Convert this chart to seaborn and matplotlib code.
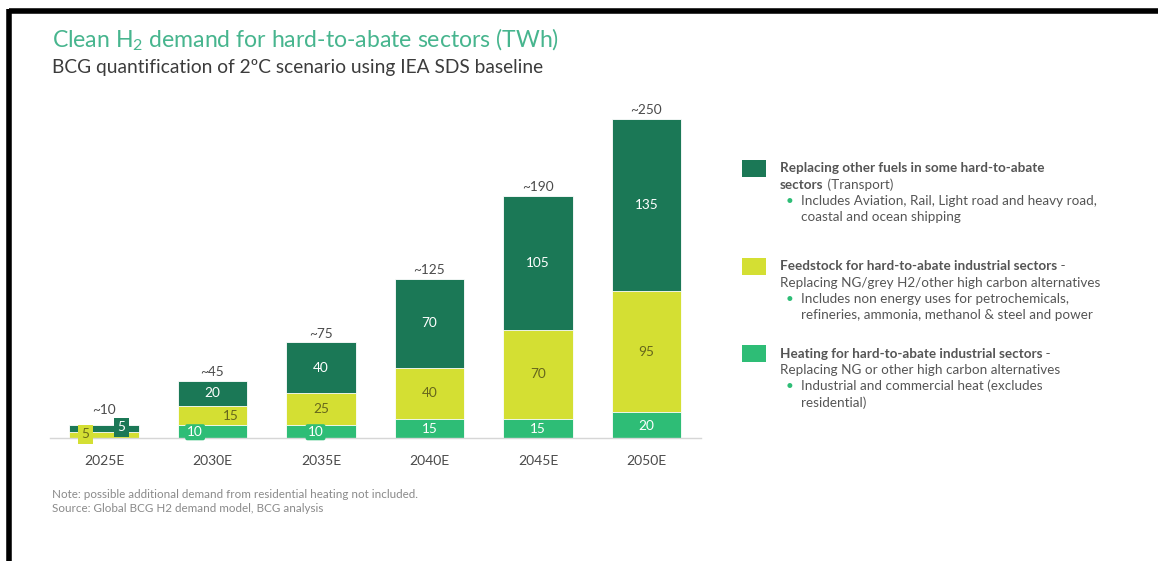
import matplotlib
matplotlib.use("Agg")
import matplotlib.pyplot as plt
import seaborn as sns
import pandas as pd
import numpy as np
from matplotlib.lines import Line2D
from matplotlib.patches import Rectangle

# ---- data -------------------------------------------------------------
years = ["2025E", "2030E", "2035E", "2040E", "2045E", "2050E"]
heating = [0, 10, 10, 15, 15, 20]
feedstock = [5, 15, 25, 40, 70, 95]
transport = [5, 20, 40, 70, 105, 135]
totals = ["~10", "~45", "~75", "~125", "~190", "~250"]

note_lines = [
    "Note: possible additional demand from residential heating not included.",
    "Source: Global BCG H2 demand model, BCG analysis",
]

# ---- style ------------------------------------------------------------
sns.set_theme(style="white")
FONT = "Lato"
plt.rcParams["font.family"] = [FONT, "DejaVu Sans"]
plt.rcParams["mathtext.fontset"] = "custom"
plt.rcParams["mathtext.rm"] = FONT

C_TRANS = "#1b7856"
C_FEED = "#d4df33"
C_HEAT = "#2ebd76"
C_TITLE = "#47b58e"
C_TEXT = "#4a4a4a"
C_NOTE = "#8a8a8a"

W, H = 1158, 561
fig = plt.figure(figsize=(W / 100, H / 100), dpi=100)


def fx(px):
    return px / W


def fy(py):
    return 1 - py / H


# axes: category 0..5 centred at 104..647 px, baseline at y=438 px
ax = fig.add_axes([fx(49.7), fy(438), fx(651), 344.5 / H])
ax.set_xlim(-0.5, 5.5)
ax.set_ylim(0, 270)

df = pd.DataFrame({
    "year": years,
    "Heating": heating,
    "Feedstock": feedstock,
    "Transport": transport,
})
df["b_feed"] = df["Heating"]
df["b_trans"] = df["Heating"] + df["Feedstock"]
df["top"] = df["b_trans"] + df["Transport"]

bw = 0.64
sns.barplot(data=df, x="year", y="top", color=C_TRANS, width=bw, ax=ax,
            saturation=1, edgecolor="white", linewidth=0.6)
sns.barplot(data=df, x="year", y="b_trans", color=C_FEED, width=bw, ax=ax,
            saturation=1, edgecolor="white", linewidth=0.6)
sns.barplot(data=df, x="year", y="b_feed", color=C_HEAT, width=bw, ax=ax,
            saturation=1, edgecolor="white", linewidth=0.6)

# segment labels
lab_fs = 9.8
x_shift_heat = {1: -0.16, 2: -0.05}
x_shift_feed = {1: 0.17}
for i in range(len(years)):
    h, f, t = heating[i], feedstock[i], transport[i]
    tot_gap = 2
    if i == 0:
        # tiny first bar: labels sit in small tags of the segment colour
        ax.text(i - 0.17, h + f * 0.5 + 0.5, f"{f}", ha="center", va="center",
                fontsize=lab_fs, color="#6b6b1a",
                bbox=dict(boxstyle="square,pad=0.25", fc=C_FEED, ec="none"))
        ax.text(i + 0.16, h + f + t * 0.5 + 1, f"{t}", ha="center",
                va="center", fontsize=lab_fs, color="white",
                bbox=dict(boxstyle="square,pad=0.25", fc=C_TRANS, ec="none"))
        tot_gap = 7
    else:
        ax.text(i + x_shift_heat.get(i, 0), h / 2 - 0.5, f"{h}",
                ha="center", va="center", fontsize=lab_fs, color="white",
                bbox=dict(boxstyle="round,pad=0.15", fc=C_HEAT, ec="none")
                if i in x_shift_heat else None)
        ax.text(i + x_shift_feed.get(i, 0), h + f / 2, f"{f}",
                ha="center", va="center", fontsize=lab_fs, color="#66661c")
        ax.text(i, h + f + t / 2, f"{t}", ha="center", va="center",
                fontsize=lab_fs, color="white")
    ax.text(i, h + f + t + tot_gap, totals[i], ha="center", va="bottom",
            fontsize=lab_fs, color=C_TEXT)

sns.despine(ax=ax, left=True, top=True, right=True)
ax.spines["bottom"].set_color("#d6d6d6")
ax.spines["bottom"].set_linewidth(1.0)
ax.set_yticks([])
ax.set_xlabel("")
ax.set_ylabel("")
ax.tick_params(axis="x", length=0, pad=12, labelsize=10, labelcolor=C_TEXT)

# ---- titles -----------------------------------------------------------
fig.text(fx(52), fy(40), r"Clean H$_\mathregular{2}$ demand for hard-to-abate sectors (TWh)",
         fontsize=16.6, color=C_TITLE, va="center", ha="left")
fig.text(fx(52), fy(68), "BCG quantification of 2ºC scenario using IEA SDS baseline",
         fontsize=13.8, color="#3c3c3c", va="center", ha="left")

# ---- legend -----------------------------------------------------------
leg_fs = 9.75
lh = 16.3
blocks = [
    (C_TRANS, 160, [
        [("Replacing other fuels in some hard-to-abate", "bold")],
        [("sectors", "bold"), (" (Transport)", "normal")],
        [("•", "bullet"), ("Includes Aviation, Rail, Light road and heavy road,", "normal")],
        [("coastal and ocean shipping", "indent")],
    ]),
    (C_FEED, 258, [
        [("Feedstock for hard-to-abate industrial sectors", "bold"), (" -", "normal")],
        [("Replacing NG/grey H2/other high carbon alternatives", "normal")],
        [("•", "bullet"), ("Includes non energy uses for petrochemicals,", "normal")],
        [("refineries, ammonia, methanol & steel and power", "indent")],
    ]),
    (C_HEAT, 345, [
        [("Heating for hard-to-abate industrial sectors", "bold"), (" -", "normal")],
        [("Replacing NG or other high carbon alternatives", "normal")],
        [("•", "bullet"), ("Industrial and commercial heat (excludes", "normal")],
        [("residential)", "indent")],
    ]),
]

renderer = fig.canvas.get_renderer()
for color, ytop, lines in blocks:
    fig.add_artist(Rectangle((fx(742), fy(ytop + 17)), fx(24), 17 / H,
                             transform=fig.transFigure, fc=color, ec="none"))
    for k, parts in enumerate(lines):
        y = fy(ytop + 8.5 + k * lh)
        xpx = 780
        for txt, kind in parts:
            if kind == "bullet":
                fig.text(fx(786), y, txt, fontsize=leg_fs, color=C_HEAT,
                         va="center", ha="left")
                xpx = 801
                continue
            if kind == "indent":
                xpx = 801
            t = fig.text(fx(xpx), y, txt, fontsize=leg_fs, color="#555555",
                         fontweight="bold" if kind == "bold" else "normal",
                         va="center", ha="left")
            bb = t.get_window_extent(renderer)
            xpx += bb.width

# ---- notes ------------------------------------------------------------
for k, line in enumerate(note_lines):
    fig.text(fx(52), fy(494 + k * 15), line, fontsize=8.4, color=C_NOTE,
             va="center", ha="left")

# ---- frame ------------------------------------------------------------
fig.add_artist(Line2D([fx(9), 1.0], [fy(10.5), fy(10.5)], transform=fig.transFigure,
                      color="black", linewidth=4, solid_capstyle="butt"))
fig.add_artist(Line2D([fx(9), fx(9)], [fy(9), 0], transform=fig.transFigure,
                      color="black", linewidth=4, solid_capstyle="butt"))

fig.savefig("out.png", dpi=100, facecolor="white")
